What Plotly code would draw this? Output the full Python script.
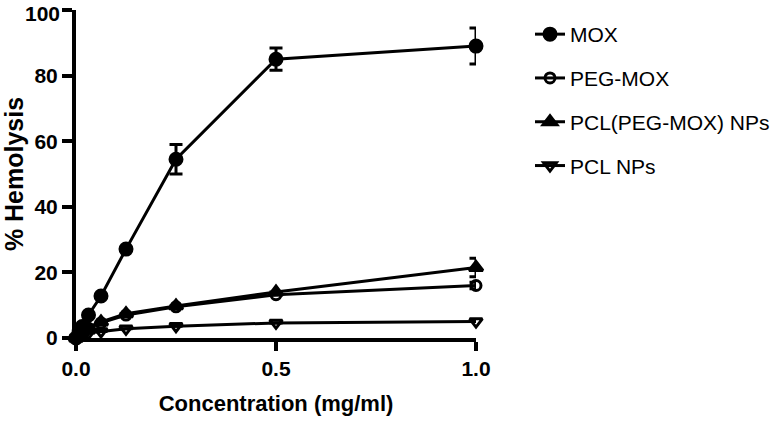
import plotly.graph_objects as go

conc = [0, 0.0078, 0.0156, 0.03125, 0.0625, 0.125, 0.25, 0.5, 1.0]
mox = [0, 2.0, 3.5, 7.0, 12.8, 27.1, 54.5, 85.0, 89.0]
mox_err = [0, 0, 0, 0, 0, 0, 4.5, 3.4, 5.5]
peg_mox = [0, 1.0, 2.0, 3.0, 4.6, 7.0, 9.5, 13.2, 16.0]
peg_mox_err = [0, 0, 0, 0, 0, 0, 0, 0, 1.0]
pcl_peg_mox = [0, 1.0, 2.0, 3.0, 4.9, 7.4, 9.8, 14.0, 21.5]
pcl_peg_mox_err = [0, 0, 0, 0, 0, 0, 0, 0, 2.8]
pcl_nps = [0, 0.5, 1.0, 1.5, 2.0, 2.8, 3.6, 4.6, 5.0]
pcl_nps_err = [0, 0, 0, 0, 0, 0, 0, 0, 0]

y_ticks = [0, 20, 40, 60, 80, 100]
x_ticks = [0, 0.5, 1.0]
x_tick_labels = ["0.0", "0.5", "1.0"]

series = [
    ("MOX", mox, mox_err, "circle", 12),
    ("PEG-MOX", peg_mox, peg_mox_err, "circle-open", 10),
    ("PCL(PEG-MOX) NPs", pcl_peg_mox, pcl_peg_mox_err, "triangle-up", 12),
    ("PCL NPs", pcl_nps, pcl_nps_err, "triangle-down-open", 11),
]

FONT = "Liberation Sans, Arial, Helvetica, sans-serif"
W, H = 779, 424

fig = go.Figure()
for i, (name, vals, err, sym, size) in enumerate(series):
    fig.add_trace(go.Scatter(
        x=conc, y=vals, name=name, mode="lines+markers",
        legendgroup=f"g{i}",
        line=dict(color="black", width=3),
        marker=dict(symbol=sym, size=size, color="black",
                    line=dict(color="black", width=3)),
        error_y=dict(type="data", array=err, visible=True,
                     color="black", thickness=3, width=6.5),
        cliponaxis=False,
    ))

# top y tick label drawn as annotation, nudged down so it stays inside the page
y_text = [f"<b>{v}</b>" if v != y_ticks[-1] else "" for v in y_ticks]
fig.add_annotation(
    x=62 / W, xref="paper", xanchor="right",
    y=y_ticks[-1], yref="y", yanchor="middle", yshift=-3,
    text=f"<b>{y_ticks[-1]}</b>", showarrow=False,
    font=dict(size=21, family=FONT, color="black"),
)

fig.update_layout(
    width=W, height=H,
    margin=dict(l=0, r=0, t=0, b=0),
    plot_bgcolor="white", paper_bgcolor="white",
    font=dict(family=FONT, color="black"),
    showlegend=True,
    legend=dict(x=530 / W, y=1 - 14 / H, xanchor="left", yanchor="top",
                font=dict(size=21, family=FONT, color="black"),
                tracegroupgap=13.5, itemwidth=30,
                bgcolor="rgba(0,0,0,0)"),
    xaxis=dict(
        domain=[76 / W, 476 / W], automargin=False,
        range=[0, 1], showline=True, linewidth=4, linecolor="black",
        ticks="outside", ticklen=9, tickwidth=4, tickcolor="black",
        tickvals=x_ticks, ticktext=[f"<b>{t}</b>" for t in x_tick_labels],
        tickfont=dict(size=21, family=FONT),
        ticklabeloverflow="allow",
        showgrid=False, zeroline=False,
        title=dict(text="<b>Concentration (mg/ml)</b>", font=dict(size=22, family=FONT), standoff=17),
    ),
    yaxis=dict(
        domain=[(H - 338) / H, (H - 10) / H], automargin=False,
        range=[0, 100], showline=True, linewidth=4, linecolor="black",
        ticks="outside", ticklen=10, tickwidth=4, tickcolor="black",
        tickvals=y_ticks, ticktext=y_text,
        tickfont=dict(size=21, family=FONT),
        ticklabeloverflow="allow",
        showgrid=False, zeroline=False,
        title=dict(text="<b>% Hemolysis</b>", font=dict(size=25, family=FONT), standoff=8),
    ),
)

fig.write_html("out.html", config={"displayModeBar": False},
               post_script="document.body.style.margin='0';")
